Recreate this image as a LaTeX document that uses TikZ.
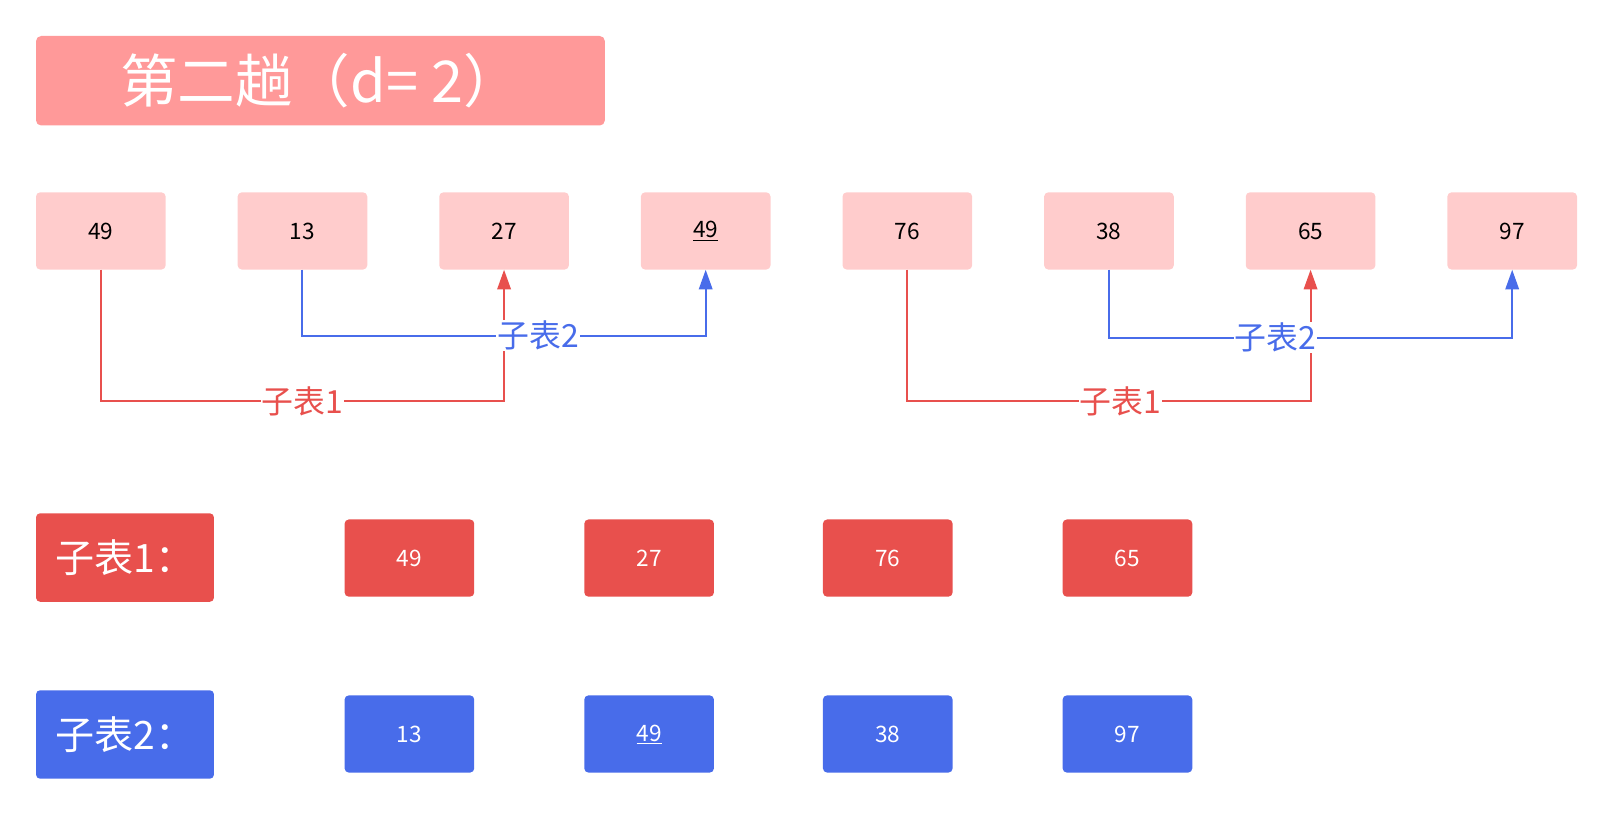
\documentclass[tikz,border=0pt]{standalone}
\usepackage{fontspec}
\setmainfont{Noto Sans CJK SC}
\usetikzlibrary{arrows.meta}
\definecolor{titlepink}{HTML}{FF9999}
\definecolor{cellpink}{HTML}{FFCCCC}
\definecolor{subred}{HTML}{E8504D}
\definecolor{subblue}{HTML}{486CEA}
\tikzset{
  cell/.style={rectangle, rounded corners=4pt, inner sep=0pt, minimum width=126pt, minimum height=75pt},
  topcell/.style={cell, fill=cellpink, text=black, font=\fontsize{22}{22}\selectfont},
  redcell/.style={cell, fill=subred, text=white, font=\fontsize{22}{22}\selectfont},
  bluecell/.style={cell, fill=subblue, text=white, font=\fontsize{22}{22}\selectfont},
  tagbox/.style={rectangle, rounded corners=4pt, inner sep=0pt, minimum width=173pt, minimum height=86pt, text=white, font=\fontsize{38}{38}\selectfont},
  redline/.style={draw=subred, line width=2pt, -{Triangle[length=19pt,width=13pt]}},
  blueline/.style={draw=subblue, line width=2pt, -{Triangle[length=19pt,width=13pt]}},
  linelabel/.style={fill=white, inner sep=1pt, font=\fontsize{31}{31}\selectfont},
}
\begin{document}
\begin{tikzpicture}[x=1pt,y=-1pt]
\useasboundingbox (0,0) rectangle (1568,791);
% title
\node[rectangle, rounded corners=5pt, fill=titlepink, minimum width=553pt, minimum height=87pt, inner sep=0pt, text=white, font=\fontsize{56}{56}\selectfont] (title) at (311.5,78.5) {第二趟（d=\ 2）};
% top row
\node[topcell] (t1) at (98,224.5) {49};
\node[topcell] (t2) at (294,224.5) {13};
\node[topcell] (t3) at (490,224.5) {27};
\node[topcell] (t4) at (686,224.5) {\underline{49}};
\node[topcell] (t5) at (882,224.5) {76};
\node[topcell] (t6) at (1078,224.5) {38};
\node[topcell] (t7) at (1274,224.5) {65};
\node[topcell] (t8) at (1470,224.5) {97};
% connectors
\draw[redline] (t1.south) -- ++(0,128) -| (t3.south);
\draw[blueline] (t2.south) -- ++(0,64) -| (t4.south);
\draw[redline] (t5.south) -- ++(0,128) -| (t7.south);
\draw[blueline] (t6.south) -- ++(0,66) -| (t8.south);
\node[linelabel, text=subred] (la) at (294,390) {子表1};
\node[linelabel, text=subblue] (lb) at (523,326) {子表2};
\node[linelabel, text=subred] (lc) at (1089,390) {子表1};
\node[linelabel, text=subblue] (ld) at (1240,328) {子表2};
% bottom
\node[tagbox, fill=subred] (tag1) at (121.5,542) {子表1：};
\node[tagbox, fill=subblue] (tag2) at (121.5,714) {子表2：};
\node[redcell] (r1) at (398,542.5) {49};
\node[redcell] (r2) at (631,542.5) {27};
\node[redcell] (r3) at (863,542.5) {76};
\node[redcell] (r4) at (1096,542.5) {65};
\node[bluecell] (b1) at (398,713.5) {13};
\node[bluecell] (b2) at (631,713.5) {\underline{49}};
\node[bluecell] (b3) at (863,713.5) {38};
\node[bluecell] (b4) at (1096,713.5) {97};
\end{tikzpicture}
\end{document}
